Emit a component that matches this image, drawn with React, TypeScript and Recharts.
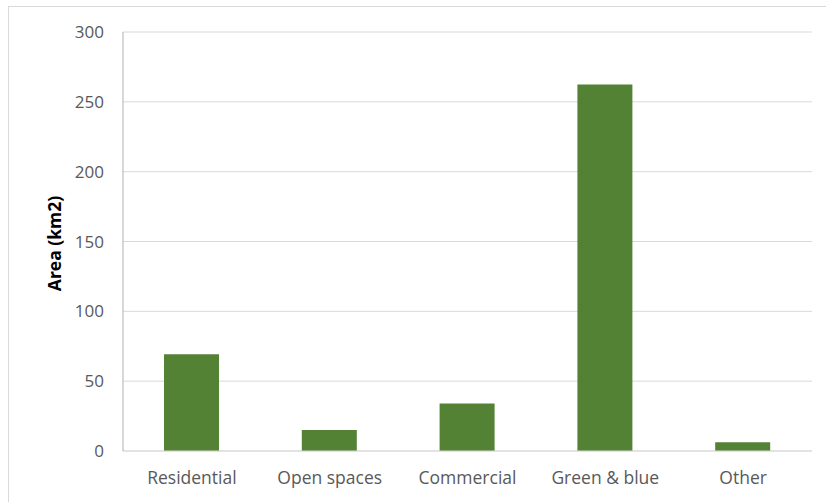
import React from 'react';
import { BarChart, Bar, XAxis, YAxis, CartesianGrid } from 'recharts';

const categories = ['Residential', 'Open spaces', 'Commercial', 'Green & blue', 'Other'];
const areaValues = [69.3, 15, 34, 262.5, 6.2];
const yTicks = [0, 50, 100, 150, 200, 250, 300];
const yTitle = 'Area (km2)';

const data = categories.map((name, i) => ({ name, value: areaValues[i] }));

const FONT = '"Open Sans", "DejaVu Sans", sans-serif';

const YTitle = (props: any) => {
  const vb = props.viewBox || {};
  const cx = 45;
  const cy = (vb.y || 0) + (vb.height || 0) / 2 + 2;
  return (
    <text
      x={cx}
      y={cy}
      transform={`rotate(-90, ${cx}, ${cy})`}
      textAnchor="middle"
      dominantBaseline="central"
      fontFamily={FONT}
      fontWeight="bold"
      fontSize={17.5}
      fill="#000000"
    >
      {yTitle}
    </text>
  );
};

export default function App() {
  return (
    <div
      style={{
        position: 'absolute',
        left: 8,
        top: 6,
        width: 840,
        height: 510,
        border: '1px solid #d9d9d9',
        boxSizing: 'border-box',
        background: '#ffffff',
      }}
    >
      <BarChart
        width={818}
        height={494}
        data={data}
        margin={{ top: 25, right: 15, bottom: 0, left: 0 }}
        barSize={55}
      >
        <CartesianGrid vertical={false} stroke="#d9d9d9" strokeWidth={1} />
        <XAxis
          dataKey="name"
          height={50}
          axisLine={{ stroke: '#d9d9d9', strokeWidth: 1 }}
          tickLine={false}
          tickSize={0}
          tickMargin={21}
          tick={{ fill: '#595959', fontSize: 17.5, fontFamily: FONT }}
          interval={0}
        />
        <YAxis
          width={114}
          domain={[0, 300]}
          ticks={yTicks}
          axisLine={{ stroke: '#b0b0b0', strokeWidth: 1 }}
          tickLine={false}
          tickSize={0}
          tickMargin={19}
          tick={{ fill: '#595959', fontSize: 17, fontFamily: FONT }}
          label={<YTitle />}
        />
        <Bar dataKey="value" fill="#548235" isAnimationActive={false} />
      </BarChart>
    </div>
  );
}
